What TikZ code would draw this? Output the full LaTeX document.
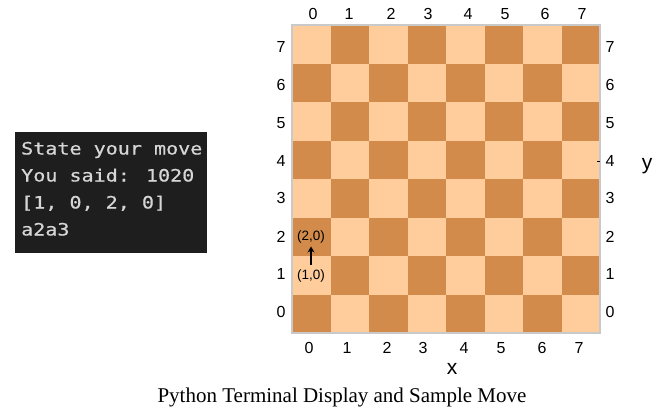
\documentclass[tikz,border=0pt]{standalone}
\usepackage{fontspec}
\setmainfont{Liberation Serif}
\setsansfont{Liberation Sans}
\newfontfamily\termfont[FakeStretch=1.18,FakeBold=0.6]{DejaVu Sans Mono}
\usetikzlibrary{positioning,arrows.meta}
\definecolor{lightsq}{HTML}{FFCD9C}
\definecolor{darksq}{HTML}{D28B4A}
\definecolor{termbg}{HTML}{1E1E1E}
\definecolor{termfg}{HTML}{D6D6D6}
\definecolor{rim}{HTML}{C9C9C9}

\begin{document}
\begin{tikzpicture}[x=1pt,y=-1pt,
  sq/.style = {minimum size=38.5pt,inner sep=0pt,outer sep=0pt,anchor=north west},
  sq0/.style = {sq,fill=darksq},
  sq1/.style = {sq,fill=lightsq},
  axnum/.style = {font=\sffamily\fontsize{16}{16}\selectfont,inner sep=0pt},
  axname/.style = {font=\sffamily\fontsize{21}{21}\selectfont,inner sep=0pt},
  coord/.style = {font=\sffamily\fontsize{13.5}{13.5}\selectfont,inner sep=1pt},
  term/.style = {font=\termfont\fontsize{17}{17}\selectfont,text=termfg,
        anchor=base west,inner sep=0pt}
]
\useasboundingbox (0,0) rectangle (663,415);
% terminal
\node[fill=termbg,minimum width=192pt,minimum height=121pt,
      anchor=north west,inner sep=0pt] (termbox) at (15,132) {};
\node[term] (line1) at (21,154.5) {State your move};
\node[term] (line2) at (21,181.5) {You said: 1020};
\node[term] (line3) at (21,208.5) {[1, 0, 2, 0]};
\node[term] (line4) at (21,235.5) {a2a3};
% board
\foreach \c in {0,...,7}
  \foreach \r in {0,...,7} {
    \pgfmathsetmacro\px{292+38.5*\c}
    \pgfmathsetmacro\py{25+38.5*(7-\r)}
    \pgfmathtruncatemacro\odd{mod(\c+\r,2)}
    \node[sq\odd] (sq-\c-\r) at (\px,\py) {};
  }
\draw[rim,line width=1.2pt] (sq-0-7.north west) rectangle (sq-7-0.south east);
% axis numbers
\foreach \c/\lx in {0/313,1/349,2/391,3/428,4/468,5/505,6/545,7/582}
  \node[axnum] (top-\c) at (\lx,14) {\c};
\foreach \c/\lx in {0/309,1/347,2/387,3/423,4/464,5/501,6/542,7/579}
  \node[axnum] (bot-\c) at (\lx,348) {\c};
\foreach \r/\ly in {7/47,6/85,5/123,4/161,3/198,2/237,1/274,0/312} {
  \node[axnum] (left-\r) at (281,\ly) {\r};
  \node[axnum] (right-\r) at (610,\ly) {\r};
}
\draw[line width=0.8pt] ([xshift=-8pt]right-4.west) -- ([xshift=-5pt]right-4.west);
\node[axname] (xname) at (452,369) {x};
\node[axname] (yname) at (647,166) {y};
% sample move
\node[coord] (to) at (311,237) {(2,0)};
\node[coord] (from) at (311,276) {(1,0)};
\draw[-{Stealth[length=6pt,width=7pt]},line width=1.6pt,
      shorten <=4pt,shorten >=2pt] (from) -- (to);
% caption
\node[font=\fontsize{21}{21}\selectfont,inner sep=0pt,anchor=base] (caption)
  at (342,402) {Python Terminal Display and Sample Move};
\end{tikzpicture}
\end{document}
